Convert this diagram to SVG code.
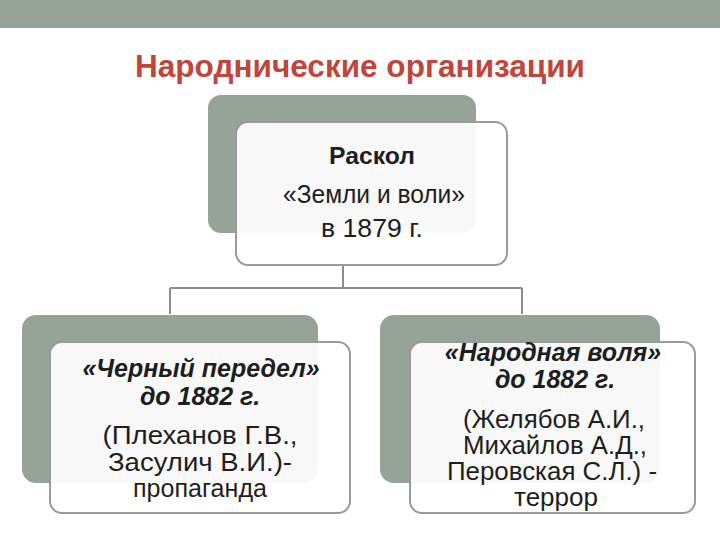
<svg xmlns="http://www.w3.org/2000/svg" width="720" height="540" viewBox="0 0 720 540">
<style>
.back{fill:#95a398}
.front{fill:#ffffff;fill-opacity:0.92;stroke:#9a9a9a;stroke-width:2}
.t{font-family:"Liberation Sans",Arial,sans-serif;fill:#1e1e1e;text-anchor:middle}
.b{font-weight:bold}
.bi{font-weight:bold;font-style:italic}
.conn{fill:none;stroke:#8c8c8c;stroke-width:2}
</style>
<rect x="0" y="0" width="720" height="28" fill="#95a398"/>
<text x="360" y="77" font-family="'Liberation Sans',Arial,sans-serif" font-weight="bold" font-size="32" fill="#c0453a" text-anchor="middle" textLength="450" lengthAdjust="spacingAndGlyphs">Народнические организации</text>
<g id="connectors">
<path class="conn" d="M343 264 V288 M170 288 H522 M170 288 V314 M522 288 V314"/>
</g>
<g id="node-raskol">
<rect class="back" x="208" y="95" width="268" height="138" rx="13"/>
<rect class="front" x="236" y="122" width="271" height="143" rx="12"/>
<text class="t b" x="372" y="164" font-size="24" textLength="86" lengthAdjust="spacingAndGlyphs">Раскол</text>
<text class="t" x="374" y="203" font-size="25" textLength="182" lengthAdjust="spacingAndGlyphs">«Земли и воли»</text>
<text class="t" x="372" y="237" font-size="25" textLength="102" lengthAdjust="spacingAndGlyphs">в 1879 г.</text>
</g>
<g id="node-cherny">
<rect class="back" x="22" y="315" width="296" height="168" rx="14"/>
<rect class="front" x="50" y="342" width="300" height="171" rx="12"/>
<text class="t bi" x="201" y="377" font-size="25">«Черный передел»</text>
<text class="t bi" x="200" y="405" font-size="25">до 1882 г.</text>
<text class="t" x="200" y="444" font-size="25" textLength="195" lengthAdjust="spacingAndGlyphs">(Плеханов Г.В.,</text>
<text class="t" x="200" y="471" font-size="25" textLength="184" lengthAdjust="spacingAndGlyphs">Засулич В.И.)-</text>
<text class="t" x="200" y="497" font-size="25" textLength="134" lengthAdjust="spacingAndGlyphs">пропаганда</text>
</g>
<g id="node-narodnaya">
<rect class="back" x="380" y="315" width="280" height="168" rx="14"/>
<rect class="front" x="410" y="342" width="285" height="171" rx="12"/>
<text class="t bi" x="553" y="361" font-size="25">«Народная воля»</text>
<text class="t bi" x="555" y="388" font-size="25">до 1882 г.</text>
<text class="t" x="554" y="428" font-size="25" textLength="182" lengthAdjust="spacingAndGlyphs">(Желябов А.И.,</text>
<text class="t" x="555" y="454" font-size="25" textLength="184" lengthAdjust="spacingAndGlyphs">Михайлов А.Д.,</text>
<text class="t" x="552" y="480" font-size="25" textLength="210" lengthAdjust="spacingAndGlyphs">Перовская С.Л.) -</text>
<text class="t" x="556" y="506" font-size="25" textLength="84" lengthAdjust="spacingAndGlyphs">террор</text>
</g>
</svg>
